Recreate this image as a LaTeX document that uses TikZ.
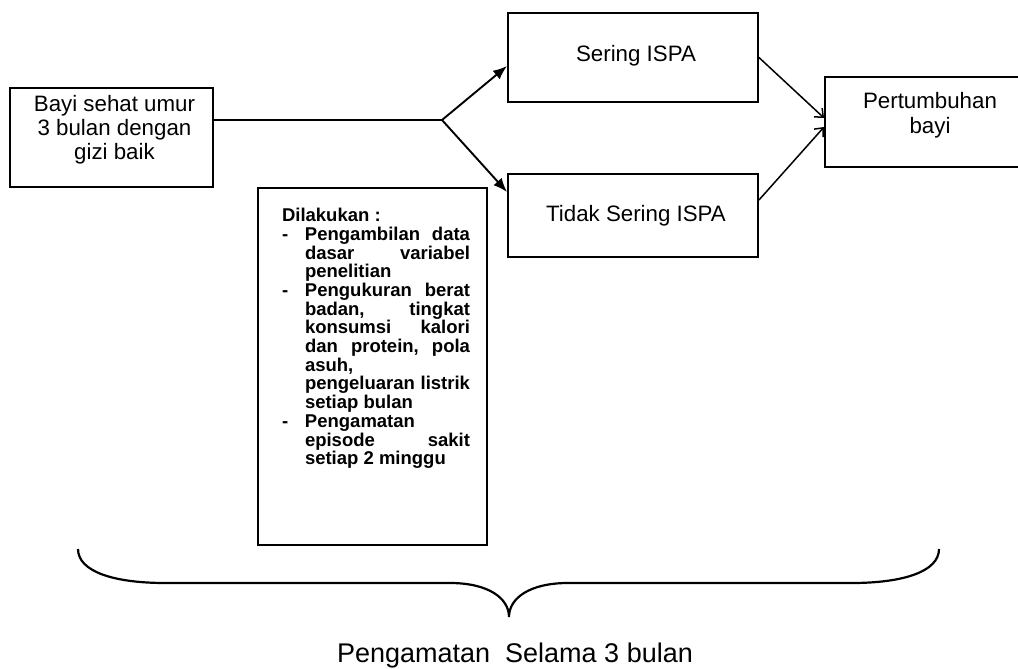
\documentclass[tikz,border=0pt]{standalone}
\usepackage{fontspec}
\setmainfont{Liberation Sans}
\usetikzlibrary{arrows.meta,calc}

% one centred line of a given width
\newcommand\crow[2]{\hbox to #1{\hfil#2\hfil}}
% rows of the task list: plain continuation row and row opened by a dash
\newcommand\plainrow[1]{\hbox to 229pt{\hskip47pt\hbox to 165pt{#1}\hss}}
\newcommand\dashrow[1]{\hbox to 229pt{\hskip24pt\hbox to 23pt{-\hss}\hbox to 165pt{#1}\hss}}

\begin{document}
\begin{tikzpicture}[x=1pt,y=-1pt,
  box/.style={draw,line width=1.9pt,inner sep=0pt,font=\fontsize{22.3}{24}\selectfont},
  link/.style={line width=1.9pt},
  fwd/.style={line width=1.9pt,-{Latex[length=14pt,width=11pt]}},
  barb/.style={line width=1.5pt,-{Straight Barb[length=7pt,width=12pt]}}]
\useasboundingbox (0,0) rectangle (1018,669);
\fill[white] (0,0) rectangle (1018,669);
\clip (0,0) rectangle (1018,669);

% boxes
\node[box,minimum width=203pt,minimum height=99pt] (bayi) at (111.5,137.5)
  {\vbox{\crow{203pt}{\hskip6pt Bayi sehat umur}\crow{203pt}{\hskip6pt 3 bulan dengan}\crow{203pt}{\hskip6pt gizi baik}\vskip15pt}};
\node[box,minimum width=250pt,minimum height=89pt] (sering) at (633,57.5)
  {\vbox{\crow{250pt}{\hskip6pt Sering ISPA}\vskip4pt}};
\node[box,minimum width=250pt,minimum height=83pt] (tidak) at (633,215.5)
  {\crow{250pt}{\hskip6pt Tidak Sering ISPA}};
\node[box,minimum width=210pt,minimum height=90pt,font=\fontsize{22.3}{25}\selectfont] (pert) at (930,122)
  {\vbox{\crow{210pt}{Pertumbuhan}\crow{210pt}{bayi}\vskip13pt}};

% list of activities
\node[draw,line width=1.9pt,inner sep=0pt,font=\fontsize{18.5}{18.7}\bfseries\selectfont] (tasks) at (372.5,366.5)
  {\vbox to 357pt{%
    \hbox to 229pt{\vrule height33.6pt width0pt\hskip24pt Dilakukan :\hss}
    \dashrow{Pengambilan\hfill data}
    \plainrow{dasar\hfill variabel}
    \plainrow{penelitian\hfil}
    \dashrow{Pengukuran\hfill berat}
    \plainrow{badan,\hfill tingkat}
    \plainrow{konsumsi\hfill kalori}
    \plainrow{dan\hfill protein,\hfill pola}
    \plainrow{asuh,\hfil}
    \plainrow{pengeluaran\hfill listrik}
    \plainrow{setiap bulan\hfil}
    \dashrow{Pengamatan\hfil}
    \plainrow{episode\hfill sakit}
    \plainrow{setiap 2 minggu\hfil}
    \vfil}};

% connectors
\coordinate (fork) at (442,120);
\draw[link] (fork -| bayi.east) -- (fork);
\draw[fwd] (fork) -- ([yshift=-8.5pt]sering.west);
\draw[fwd] (fork) -- ([yshift=23.5pt]tidak.west);
\draw[barb] (sering.east) -- ([yshift=4pt]pert.west);
\draw[barb] ([yshift=15.5pt]tidak.east) -- ([yshift=-5pt]pert.west);

% brace spanning the observation period
\draw[line width=2.2pt]
  (78,549) .. controls (78,572) and (115,583) .. (165,583) -- (450,583)
  .. controls (488,583) and (509,598) .. (509,617)
  .. controls (509,598) and (530,583) .. (568,583) -- (852,583)
  .. controls (902,583) and (939,572) .. (939,549);

\node[anchor=base,inner sep=0pt,font=\fontsize{27}{30}\selectfont] (period) at (515,662) {Pengamatan\ \ Selama 3 bulan};
\end{tikzpicture}
\end{document}
